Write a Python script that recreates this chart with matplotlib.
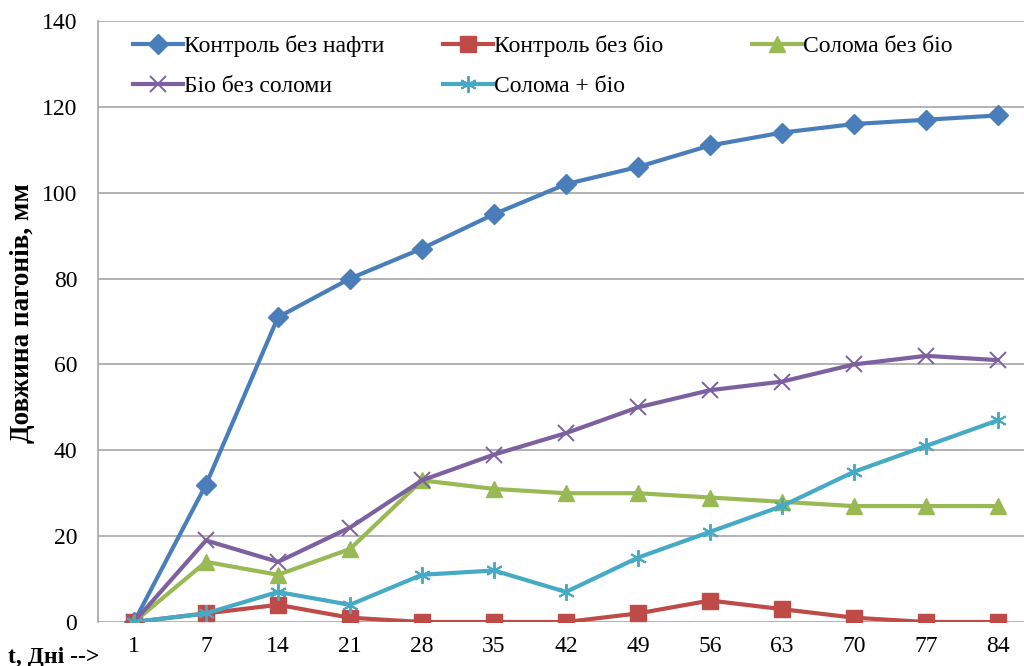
import matplotlib.pyplot as plt
import numpy as np

days = ['1', '7', '14', '21', '28', '35', '42', '49', '56', '63', '70', '77', '84']

kontrol_bez_nafty = [0, 32, 71, 80, 87, 95, 102, 106, 111, 114, 116, 117, 118]
kontrol_bez_bio = [0, 2, 4, 1, 0, 0, 0, 2, 5, 3, 1, 0, 0]
soloma_bez_bio = [0, 14, 11, 17, 33, 31, 30, 30, 29, 28, 27, 27, 27]
bio_bez_solomy = [0, 19, 14, 22, 33, 39, 44, 50, 54, 56, 60, 62, 61]
soloma_bio = [0, 2, 7, 4, 11, 12, 7, 15, 21, 27, 35, 41, 47]

plt.rcParams['font.family'] = ['Liberation Serif', 'DejaVu Serif']
fs = 17

fig = plt.figure(figsize=(10.24, 6.66), dpi=100)
ax = fig.add_axes([98 / 1024, 44 / 666, 936 / 1024, 601 / 666])

x = np.arange(len(days))
lw = 3

l1, = ax.plot(x, kontrol_bez_nafty, color='#4A7EBB', lw=lw, marker='D', ms=10,
              label='Контроль без нафти')
l2, = ax.plot(x, kontrol_bez_bio, color='#BE4B48', lw=lw, marker='s', ms=11,
              label='Контроль без біо')
l3, = ax.plot(x, soloma_bez_bio, color='#98B954', lw=lw, marker='^', ms=11,
              label='Солома без біо')
l4, = ax.plot(x, bio_bez_solomy, color='#7D60A0', lw=lw, marker='x', ms=11, mew=1.4,
              label='Біо без соломи')
l5, = ax.plot(x, soloma_bio, color='#46AAC5', lw=lw, marker=(6, 2, 0), ms=12, mew=1.4,
              label='Солома + біо')

ax.set_xlim(-0.5, 12.5)
ax.set_ylim(0, 140)
ax.set_yticks(np.arange(0, 141, 20))
ax.set_xticks(x)
ax.set_xticklabels(days)
ax.tick_params(length=0, labelsize=fs)
ax.tick_params(axis='x', pad=10)
ax.tick_params(axis='y', pad=15)
ax.yaxis.grid(True, color='#A6A6A6', lw=1.2)
ax.set_axisbelow(True)
for s in ['top', 'right', 'bottom']:
    ax.spines[s].set_visible(False)
ax.spines['left'].set_color('#A6A6A6')
ax.spines['left'].set_linewidth(1.2)

fig.text(23 / 1024, 1 - 313 / 666, 'Довжина пагонів, мм', fontsize=19.5,
         fontweight='bold', rotation=90, va='center', ha='center')

fig.text(8 / 1024, 1 - 657 / 666, 't, Дні -->', fontsize=fs, fontweight='bold',
         va='center', ha='left')

# Excel-style legend: equal-width columns
columns = [[l1, l4], [l2, l5], [l3]]
col_x = [(133 - 98) / 936, (443 - 98) / 936, (752 - 98) / 936]
for i, (hs, cx) in enumerate(zip(columns, col_x)):
    leg = ax.legend(hs, [h.get_label() for h in hs], frameon=False, fontsize=fs,
                    loc='upper left', bbox_to_anchor=(cx, 0.976), borderpad=0,
                    borderaxespad=0, handlelength=2.1, handletextpad=0.05,
                    labelspacing=0.78)
    if i < len(columns) - 1:
        ax.add_artist(leg)

fig.savefig('out.png', dpi=100)
